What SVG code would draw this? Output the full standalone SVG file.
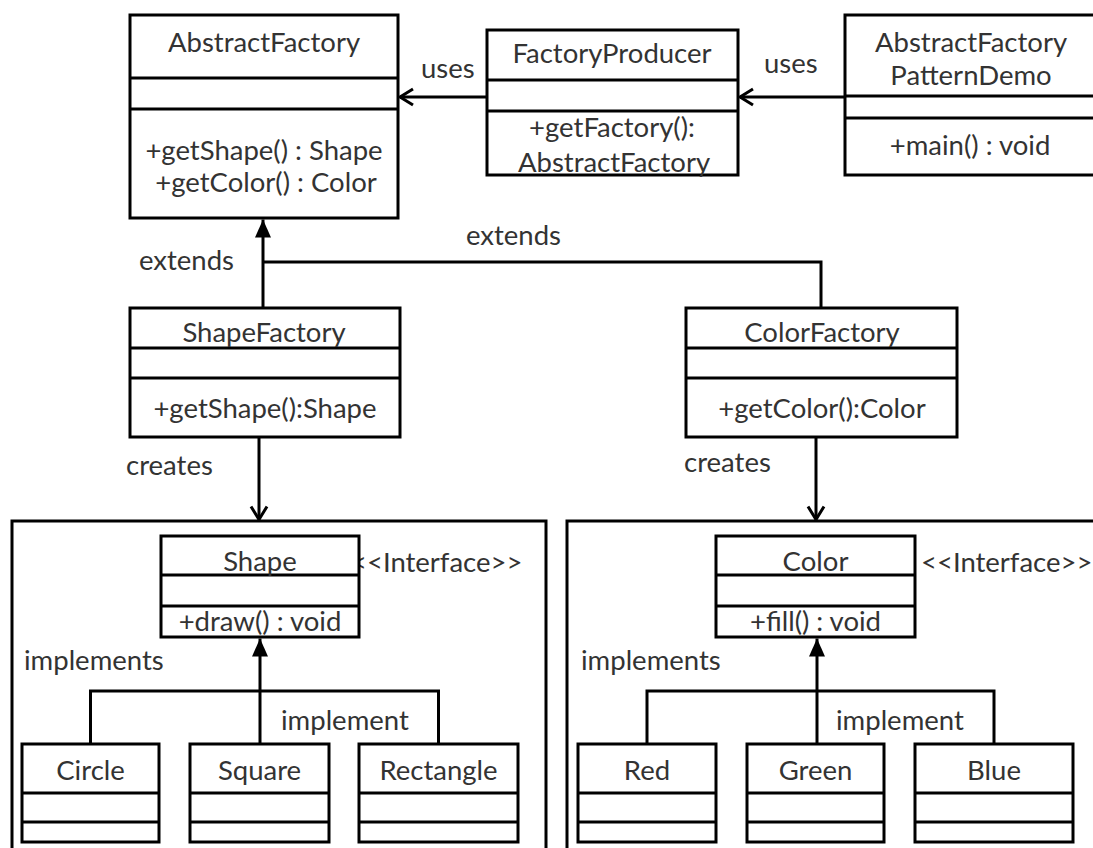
<svg xmlns="http://www.w3.org/2000/svg" width="1093" height="848" viewBox="0 0 1093 848">
<style>
.bg{fill:#fff}
.box{fill:#fff;stroke:#000;stroke-width:3}
.dv{stroke:#000;stroke-width:3}
.t{font-family:Lato,"Open Sans",sans-serif;font-size:27.5px;fill:#333;text-anchor:middle}
.l{font-family:Lato,"Open Sans",sans-serif;font-size:27.5px;fill:#333;text-anchor:start}
.c{stroke:#000;stroke-width:3;fill:none}
</style>
<defs>
<marker id="open" markerUnits="userSpaceOnUse" markerWidth="18" markerHeight="22" viewBox="0 0 18 22" refX="16" refY="11" orient="auto">
<path d="M3,3 L16,11 L3,19" fill="none" stroke="#000" stroke-width="3"/>
</marker>
<marker id="tri" markerUnits="userSpaceOnUse" markerWidth="18" markerHeight="18" viewBox="0 0 18 18" refX="18" refY="9" orient="auto">
<path d="M0,1 L18,9 L0,17 z" fill="#000"/>
</marker>
</defs>
<rect class="bg" x="0" y="0" width="1093" height="848"/>

<g id="shape-package">
<rect class="box" x="12" y="521" width="534" height="340"/>
</g>
<g id="color-package">
<rect class="box" x="567" y="521" width="540" height="340"/>
</g>

<g id="connectors">
<line class="c" x1="487" y1="97" x2="400" y2="97" marker-end="url(#open)"/>
<line class="c" x1="845" y1="97" x2="740" y2="97" marker-end="url(#open)"/>
<line class="c" x1="263" y1="308" x2="263" y2="219.5" marker-end="url(#tri)"/>
<polyline class="c" points="821,308 821,262 263,262"/>
<line class="c" x1="259" y1="437" x2="259" y2="519.5" marker-end="url(#open)"/>
<line class="c" x1="816" y1="437" x2="816" y2="519.5" marker-end="url(#open)"/>
<line class="c" x1="260" y1="744" x2="260" y2="638.5" marker-end="url(#tri)"/>
<polyline class="c" points="90.5,744 90.5,691 438.5,691 438.5,744"/>
<line class="c" x1="817" y1="744" x2="817" y2="638.5" marker-end="url(#tri)"/>
<polyline class="c" points="647,744 647,691 994,691 994,744"/>
<text class="l" x="421" y="78">uses</text>
<text class="l" x="764" y="73">uses</text>
<text class="l" x="139" y="270">extends</text>
<text class="l" x="466" y="245">extends</text>
<text class="l" x="126" y="475">creates</text>
<text class="l" x="684" y="472">creates</text>
<text class="l" x="24" y="670">implements</text>
<text class="l" x="281" y="730">implement</text>
<text class="l" x="581" y="670">implements</text>
<text class="l" x="836" y="730">implement</text>
</g>

<g id="AbstractFactory">
<rect class="box" x="130" y="15" width="268" height="203"/>
<line class="dv" x1="130" y1="78" x2="398" y2="78"/>
<line class="dv" x1="130" y1="109" x2="398" y2="109"/>
<text class="t" x="264" y="52">AbstractFactory</text>
<text class="t" x="264" y="160">+getShape() : Shape</text>
<text class="t" x="266" y="192">+getColor() : Color</text>
</g>

<g id="FactoryProducer">
<rect class="box" x="487" y="30" width="251" height="145"/>
<line class="dv" x1="487" y1="80" x2="738" y2="80"/>
<line class="dv" x1="487" y1="111" x2="738" y2="111"/>
<text class="t" x="612" y="63">FactoryProducer</text>
<text class="t" x="612" y="137">+getFactory():</text>
<text class="t" x="614" y="172">AbstractFactory</text>
</g>

<g id="AbstractFactoryPatternDemo">
<rect class="box" x="845" y="15" width="260" height="160"/>
<line class="dv" x1="845" y1="96" x2="1105" y2="96"/>
<line class="dv" x1="845" y1="118" x2="1105" y2="118"/>
<text class="t" x="971" y="52">AbstractFactory</text>
<text class="t" x="971" y="85">PatternDemo</text>
<text class="t" x="970" y="155">+main() : void</text>
</g>

<g id="ShapeFactory">
<rect class="box" x="130" y="308" width="270" height="129"/>
<line class="dv" x1="130" y1="348" x2="400" y2="348"/>
<line class="dv" x1="130" y1="378" x2="400" y2="378"/>
<text class="t" x="264" y="342">ShapeFactory</text>
<text class="t" x="265" y="418">+getShape():Shape</text>
</g>

<g id="ColorFactory">
<rect class="box" x="686" y="308" width="271" height="129"/>
<line class="dv" x1="686" y1="348" x2="957" y2="348"/>
<line class="dv" x1="686" y1="378" x2="957" y2="378"/>
<text class="t" x="822" y="342">ColorFactory</text>
<text class="t" x="822" y="418">+getColor():Color</text>
</g>

<g id="Shape">
<text class="l" x="351" y="572">&lt;&lt;Interface&gt;&gt;</text>
<rect class="box" x="161" y="536" width="198" height="101"/>
<line class="dv" x1="161" y1="575" x2="359" y2="575"/>
<line class="dv" x1="161" y1="606" x2="359" y2="606"/>
<text class="t" x="260" y="571">Shape</text>
<text class="t" x="260" y="631">+draw() : void</text>
</g>

<g id="Color">
<text class="l" x="921" y="572">&lt;&lt;Interface&gt;&gt;</text>
<rect class="box" x="716" y="536" width="199" height="101"/>
<line class="dv" x1="716" y1="575" x2="915" y2="575"/>
<line class="dv" x1="716" y1="606" x2="915" y2="606"/>
<text class="t" x="815.5" y="571">Color</text>
<text class="t" x="815.5" y="631">+fill() : void</text>
</g>

<g id="Circle">
<rect class="box" x="22" y="744" width="137" height="98"/>
<line class="dv" x1="22" y1="793" x2="159" y2="793"/>
<line class="dv" x1="22" y1="822" x2="159" y2="822"/>
<text class="t" x="90.5" y="780">Circle</text>
</g>
<g id="Square">
<rect class="box" x="190" y="744" width="139" height="98"/>
<line class="dv" x1="190" y1="793" x2="329" y2="793"/>
<line class="dv" x1="190" y1="822" x2="329" y2="822"/>
<text class="t" x="259.5" y="780">Square</text>
</g>
<g id="Rectangle">
<rect class="box" x="359" y="744" width="159" height="98"/>
<line class="dv" x1="359" y1="793" x2="518" y2="793"/>
<line class="dv" x1="359" y1="822" x2="518" y2="822"/>
<text class="t" x="438.5" y="780">Rectangle</text>
</g>
<g id="Red">
<rect class="box" x="578" y="744" width="138" height="98"/>
<line class="dv" x1="578" y1="793" x2="716" y2="793"/>
<line class="dv" x1="578" y1="822" x2="716" y2="822"/>
<text class="t" x="647" y="780">Red</text>
</g>
<g id="Green">
<rect class="box" x="747" y="744" width="137" height="98"/>
<line class="dv" x1="747" y1="793" x2="884" y2="793"/>
<line class="dv" x1="747" y1="822" x2="884" y2="822"/>
<text class="t" x="815.5" y="780">Green</text>
</g>
<g id="Blue">
<rect class="box" x="915" y="744" width="158" height="98"/>
<line class="dv" x1="915" y1="793" x2="1073" y2="793"/>
<line class="dv" x1="915" y1="822" x2="1073" y2="822"/>
<text class="t" x="994" y="780">Blue</text>
</g>
</svg>
